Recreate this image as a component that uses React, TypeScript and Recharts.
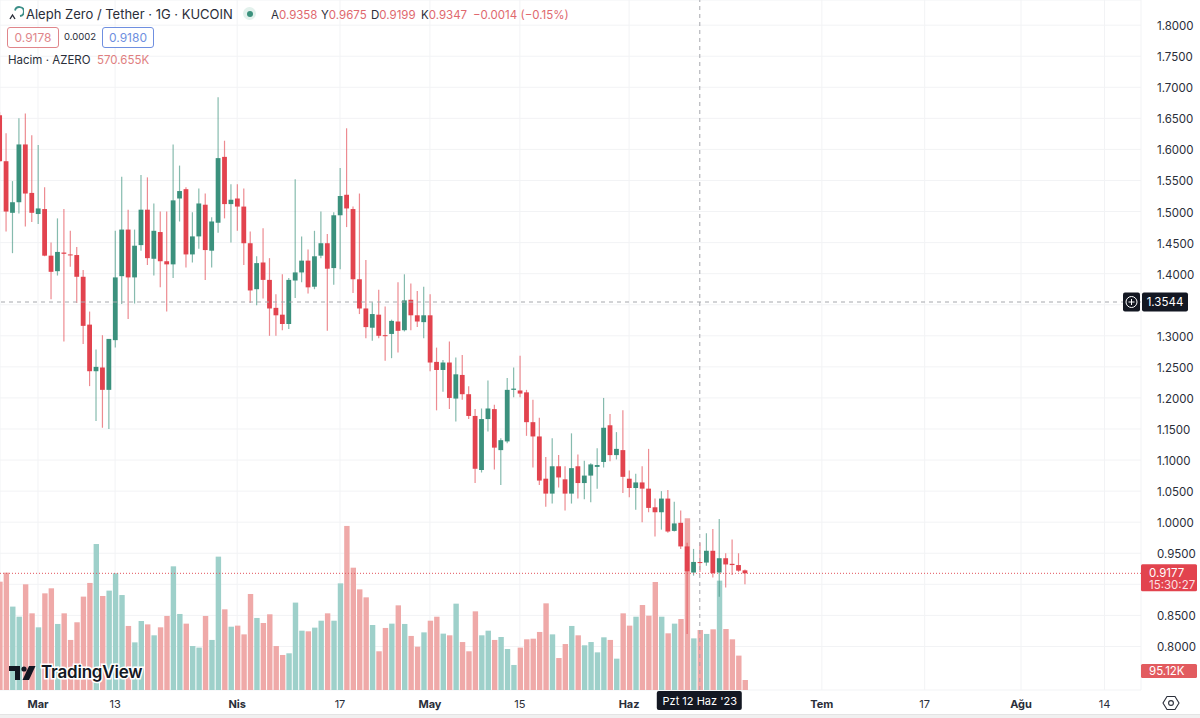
import React from "react";
import { ComposedChart, Bar, XAxis, YAxis, CartesianGrid, ReferenceLine } from "recharts";

// one candle per day, first candle is 23 Feb, day 0 is 1 Mar
const firstDay = -6;

const opens = [
  1.655, 1.581, 1.498, 1.515, 1.608, 1.53, 1.496, 1.504, 1.429, 1.404, 1.434, 1.431, 1.43, 1.395, 1.318, 1.243, 1.249, 1.213, 1.293, 1.396,
  1.471, 1.394, 1.446, 1.503, 1.424, 1.467, 1.42, 1.415, 1.521, 1.536, 1.431, 1.46, 1.511, 1.437, 1.482, 1.588, 1.512, 1.521, 1.508, 1.449,
  1.375, 1.418, 1.39, 1.345, 1.334, 1.319, 1.389, 1.402, 1.421, 1.379, 1.429, 1.449, 1.409, 1.494, 1.527, 1.504, 1.391, 1.344, 1.313, 1.334,
  1.301, 1.303, 1.323, 1.309, 1.358, 1.333, 1.322, 1.333, 1.258, 1.245, 1.257, 1.199, 1.237, 1.206, 1.171, 1.084, 1.166, 1.182, 1.116, 1.13,
  1.213, 1.212, 1.209, 1.161, 1.138, 1.07, 1.046, 1.09, 1.069, 1.046, 1.09, 1.063, 1.075, 1.089, 1.097, 1.156, 1.108, 1.116, 1.07, 1.055,
  1.064, 1.054, 1.024, 1.016, 1.038, 0.986, 0.999, 0.961, 0.919, 0.9358, 0.935, 0.954, 0.919, 0.942, 0.933, 0.931, 0.9225,
];
const highs = [
  1.66, 1.626, 1.549, 1.65, 1.658, 1.623, 1.607, 1.539, 1.45, 1.489, 1.504, 1.469, 1.443, 1.406, 1.339, 1.278, 1.301, 1.295, 1.469, 1.556,
  1.503, 1.471, 1.559, 1.555, 1.513, 1.5, 1.5, 1.608, 1.574, 1.539, 1.499, 1.537, 1.529, 1.491, 1.684, 1.614, 1.544, 1.544, 1.537, 1.468,
  1.428, 1.473, 1.425, 1.367, 1.399, 1.393, 1.552, 1.46, 1.439, 1.469, 1.5, 1.464, 1.499, 1.57, 1.634, 1.508, 1.529, 1.422, 1.354, 1.374,
  1.347, 1.326, 1.386, 1.399, 1.384, 1.372, 1.379, 1.367, 1.281, 1.261, 1.291, 1.265, 1.269, 1.219, 1.182, 1.183, 1.228, 1.189, 1.135, 1.232,
  1.249, 1.268, 1.213, 1.197, 1.168, 1.105, 1.135, 1.108, 1.09, 1.143, 1.109, 1.099, 1.095, 1.119, 1.2, 1.174, 1.145, 1.18, 1.083, 1.078,
  1.09, 1.118, 1.038, 1.05, 1.052, 1.033, 1.019, 0.967, 0.957, 0.9675, 0.982, 0.989, 1.005, 0.95, 0.972, 0.95, 0.924,
];
const lows = [
  1.58, 1.468, 1.433, 1.497, 1.476, 1.483, 1.48, 1.428, 1.359, 1.397, 1.291, 1.411, 1.353, 1.287, 1.219, 1.163, 1.152, 1.15, 1.281, 1.351,
  1.327, 1.352, 1.437, 1.414, 1.397, 1.378, 1.339, 1.393, 1.484, 1.41, 1.418, 1.44, 1.39, 1.41, 1.466, 1.489, 1.45, 1.469, 1.414, 1.353,
  1.349, 1.36, 1.3, 1.3, 1.309, 1.311, 1.361, 1.386, 1.368, 1.375, 1.425, 1.308, 1.382, 1.407, 1.475, 1.369, 1.335, 1.296, 1.292, 1.296,
  1.26, 1.264, 1.273, 1.307, 1.309, 1.314, 1.296, 1.243, 1.18, 1.21, 1.182, 1.162, 1.197, 1.166, 1.063, 1.08, 1.146, 1.085, 1.06, 1.127,
  1.201, 1.201, 1.139, 1.088, 1.06, 1.025, 1.03, 1.056, 1.019, 1.03, 1.038, 1.037, 1.032, 1.054, 1.088, 1.098, 1.101, 1.047, 1.04, 1.02,
  1.0, 1.016, 0.977, 0.988, 0.983, 0.985, 0.957, 0.82, 0.914, 0.9199, 0.93, 0.911, 0.88, 0.895, 0.915, 0.92, 0.9,
];
const closes = [
  1.581, 1.5, 1.515, 1.608, 1.529, 1.498, 1.505, 1.429, 1.403, 1.435, 1.432, 1.43, 1.395, 1.316, 1.243, 1.25, 1.213, 1.295, 1.394, 1.471,
  1.394, 1.445, 1.503, 1.425, 1.469, 1.42, 1.415, 1.518, 1.533, 1.431, 1.46, 1.513, 1.438, 1.484, 1.586, 1.512, 1.519, 1.508, 1.449, 1.373,
  1.417, 1.39, 1.344, 1.333, 1.319, 1.39, 1.402, 1.421, 1.378, 1.428, 1.449, 1.408, 1.494, 1.525, 1.505, 1.391, 1.344, 1.314, 1.335, 1.3,
  1.3, 1.324, 1.308, 1.357, 1.333, 1.323, 1.333, 1.257, 1.245, 1.257, 1.2, 1.238, 1.206, 1.171, 1.086, 1.166, 1.183, 1.12, 1.132, 1.213,
  1.215, 1.207, 1.161, 1.138, 1.067, 1.046, 1.09, 1.072, 1.046, 1.087, 1.063, 1.075, 1.093, 1.092, 1.152, 1.108, 1.118, 1.073, 1.055, 1.064,
  1.054, 1.023, 1.016, 1.038, 0.985, 0.998, 0.961, 0.921, 0.936, 0.9347, 0.954, 0.918, 0.942, 0.932, 0.931, 0.922, 0.9177,
];
// volume in thousands of AZERO
const volumes = [
  1030, 1116, 793, 697, 1005, 729, 596, 919, 967, 628, 729, 476, 644, 888, 1018, 1388, 894, 945, 1110, 903,
  609, 453, 656, 624, 520, 596, 704, 1176, 723, 631, 418, 403, 704, 476, 1268, 767, 602, 612, 529, 913,
  685, 637, 720, 418, 333, 349, 831, 564, 558, 593, 659, 729, 659, 1014, 1560, 1163, 957, 881, 618, 368,
  590, 631, 805, 628, 514, 412, 548, 659, 697, 536, 520, 821, 456, 368, 748, 520, 564, 476, 504, 390,
  238, 403, 482, 488, 552, 824, 529, 304, 437, 609, 520, 425, 456, 358, 501, 476, 298, 729, 612, 697,
  808, 707, 1027, 697, 539, 631, 675, 1633, 491, 570.655, 533, 577, 1040, 580, 482, 327, 95.12,
];

const priceTicks = [1.8, 1.75, 1.7, 1.65, 1.6, 1.55, 1.5, 1.45, 1.4, 1.35, 1.3, 1.25, 1.2, 1.15, 1.1, 1.05, 1, 0.95, 0.9, 0.85, 0.8];
// these two sit under the price tags and show no label
const hiddenPriceLabels = [1.35, 0.9];
const tickDays = [0, 12, 31, 47, 61, 75, 92, 122, 138, 153, 166];
const tickLabels = ["Mar", "13", "Nis", "17", "May", "15", "Haz", "Tem", "17", "Ağu", "14"];
const monthLabels = ["Mar", "Nis", "May", "Haz", "Tem", "Ağu"];

const crosshairDay = 103;
const crosshairPrice = 1.3544;
const lastPrice = 0.9177;
const lastVolume = 95.12;

const data = opens.map((open, i) => ({
  day: firstDay + i,
  open,
  high: highs[i],
  low: lows[i],
  close: closes[i],
  volume: volumes[i],
}));

const UP = "#3b917d";
const DOWN = "#e2434e";
const FONT = "Inter, 'Noto Sans', sans-serif";

function Candle(props: any) {
  const { x, y, width, height, payload } = props;
  const { open, high, low, close } = payload;
  const up = close >= open;
  const color = up ? UP : DOWN;
  const cx = x + width / 2;
  const perUnit = height / (high - low || 1);
  const top = y + (high - Math.max(open, close)) * perUnit;
  const bodyH = Math.max(Math.abs(open - close) * perUnit, 1);
  return (
    <g>
      <line x1={cx} x2={cx} y1={y} y2={y + height} stroke={color} strokeOpacity={0.62} strokeWidth={1.2} />
      <rect x={x} y={top} width={width} height={bodyH} fill={color} />
    </g>
  );
}

function VolumeBar(props: any) {
  const { x, y, width, height, payload } = props;
  const up = payload.close >= payload.open;
  return <rect x={x} y={y} width={width} height={height} fill={up ? "#9ed0ca" : "#efa9a8"} />;
}

function DayTick(props: any) {
  const { x, y, payload } = props;
  const label = tickLabels[tickDays.indexOf(payload.value)];
  const bold = monthLabels.includes(label);
  return (
    <text x={x} y={y + 10} textAnchor="middle" fontFamily={FONT} fontSize={11} fontWeight={bold ? 700 : 400} fill="#2a2e39">
      {label}
    </text>
  );
}

function PriceTick(props: any) {
  const { x, y, payload } = props;
  if (hiddenPriceLabels.includes(payload.value)) return <g />;
  return (
    <text x={x + 8} y={y + 5} fontFamily={FONT} fontSize={11.5} fill="#2a2e39">
      {payload.value.toFixed(4)}
    </text>
  );
}

function CrosshairPriceTag(props: any) {
  const y = props.viewBox.y;
  const x = props.viewBox.x + props.viewBox.width;
  return (
    <g fontFamily={FONT}>
      <rect x={x - 18} y={y - 9.5} width={17} height={19} rx={2} fill="#131722" />
      <circle cx={x - 9.5} cy={y} r={5.5} fill="none" stroke="#fff" strokeWidth={1} />
      <path d={`M${x - 12.5} ${y}h6M${x - 9.5} ${y - 3}v6`} stroke="#fff" strokeWidth={1} />
      <rect x={x + 1} y={y - 9.5} width={46} height={19} rx={2} fill="#131722" />
      <text x={x + 24} y={y + 4} textAnchor="middle" fontSize={11.5} fill="#fff">
        {crosshairPrice.toFixed(4)}
      </text>
    </g>
  );
}

function LastPriceTag(props: any) {
  const y = props.viewBox.y;
  const x = props.viewBox.x + props.viewBox.width;
  return (
    <g fontFamily={FONT} fontSize={11.5} fill="#fff">
      <rect x={x} y={y - 9} width={56} height={27} rx={1.5} fill={DOWN} />
      <text x={x + 8} y={y + 3.5}>{lastPrice.toFixed(4)}</text>
      <text x={x + 8} y={y + 15.5} fillOpacity={0.85}>15:30:27</text>
    </g>
  );
}

function LastVolumeTag(props: any) {
  const y = props.viewBox.y;
  const x = props.viewBox.x + props.viewBox.width;
  return (
    <g fontFamily={FONT} fontSize={11.5} fill="#fff">
      <rect x={x} y={y - 16} width={56} height={14} rx={1.5} fill="#e25b5f" />
      <text x={x + 8} y={y - 5}>{lastVolume.toFixed(2)}K</text>
    </g>
  );
}

function DateTag(props: any) {
  const cx = props.viewBox.x;
  const bottom = props.viewBox.y + props.viewBox.height;
  return (
    <g fontFamily={FONT} fontSize={11}>
      <rect x={cx - 43} y={bottom + 1} width={85} height={19} rx={2} fill="#131722" />
      <text x={cx} y={bottom + 15} textAnchor="middle" fill="#fff">Pzt 12 Haz '23</text>
    </g>
  );
}

const abs = (left: number, top: number, extra: React.CSSProperties = {}): React.CSSProperties => ({
  position: "absolute",
  left,
  top,
  whiteSpace: "nowrap",
  ...extra,
});

function Ohlc() {
  const items = [
    ["A", "0.9358", 271],
    ["Y", "0.9675", 321],
    ["D", "0.9199", 371],
    ["K", "0.9347", 421],
  ] as const;
  return (
    <>
      {items.map(([k, v, left]) => (
        <span key={k} style={abs(left, 8, { fontSize: 11.5 })}>
          <span style={{ color: "#2a2e39" }}>{k}</span>
          <span style={{ color: "#e0686e" }}>{v}</span>
        </span>
      ))}
      <span style={abs(473, 8, { fontSize: 11.5, color: "#e0686e" })}>−0.0014 (−0.15%)</span>
    </>
  );
}

function Header() {
  const box = (left: number, color: string): React.CSSProperties =>
    abs(left, 27, {
      width: 50,
      height: 19,
      lineHeight: "19px",
      textAlign: "center",
      border: `1px solid ${color}`,
      borderRadius: 3,
      color,
      fontSize: 12,
      background: "#fff",
    });
  return (
    <div style={{ fontFamily: FONT, color: "#2a2e39" }}>
      <svg style={abs(8, 6)} width={16} height={16} viewBox="0 0 16 16">
        <path d="M7 4.5 A4.5 4.5 0 1 1 12 10" fill="none" stroke="#3c8f88" strokeWidth={1.8} />
        <path d="M2 13 L4.5 9 L7 13" fill="none" stroke="#2a2e39" strokeWidth={1.4} />
      </svg>
      <span style={abs(26, 6, { fontSize: 13 })}>Aleph Zero / Tether · 1G · KUCOIN</span>
      <span style={abs(243, 7, { width: 13, height: 13, borderRadius: 7, background: "#e2f1ec" })} />
      <span style={abs(247, 11, { width: 6, height: 6, borderRadius: 3, background: "#3b917d" })} />
      <Ohlc />
      <span style={box(7, "#e0868b")}>0.9178</span>
      <span style={abs(64, 31, { fontSize: 9.5 })}>0.0002</span>
      <span style={box(102, "#6f8fe0")}>0.9180</span>
      <span style={abs(8, 53, { fontSize: 11.5 })}>Hacim · AZERO</span>
      <span style={abs(97, 53, { fontSize: 11.5, color: "#e07f80" })}>570.655K</span>
    </div>
  );
}

function Logo() {
  return (
    <>
      <svg style={abs(9, 666)} width={27} height={15} viewBox="0 0 27 15">
        <path d="M0 0H11V14H6V5H0Z" fill="#131722" />
        <circle cx={15} cy={3} r={2.6} fill="#131722" />
        <path d="M20 0H26.5L20 14H13.5Z" fill="#131722" />
      </svg>
      <span
        style={abs(41, 662, {
          fontFamily: FONT,
          fontSize: 17,
          fontWeight: 600,
          letterSpacing: -0.2,
          color: "#131722",
          WebkitTextStroke: "3px #fff",
          paintOrder: "stroke fill",
        })}
      >
        TradingView
      </span>
    </>
  );
}

export default function App() {
  return (
    <div style={{ position: "absolute", left: 0, top: 0, width: 1200, height: 718, background: "#fff", overflow: "hidden" }}>
      <ComposedChart width={1200} height={718} data={data} margin={{ top: 0, right: 0, bottom: 0, left: 0 }}>
        <CartesianGrid xAxisId="main" yAxisId="price" stroke="#f2f3f5" strokeWidth={1} />
        <XAxis
          xAxisId="main"
          dataKey="day"
          type="number"
          domain={[-5.914, 171.67]}
          allowDataOverflow
          ticks={tickDays}
          interval={0}
          height={28}
          tick={<DayTick />}
          tickLine={false}
          axisLine={false}
        />
        <XAxis xAxisId="vol" dataKey="day" type="number" domain={[-5.914, 171.67]} allowDataOverflow hide />
        <YAxis
          yAxisId="price"
          orientation="right"
          width={59}
          type="number"
          domain={[0.7299, 1.8405]}
          allowDataOverflow
          ticks={priceTicks}
          interval={0}
          tick={<PriceTick />}
          tickLine={false}
          axisLine={false}
        />
        <YAxis yAxisId="volAxis" hide type="number" domain={[0, 6561]} allowDataOverflow />
        <Bar xAxisId="vol" yAxisId="volAxis" dataKey="volume" barSize={5.4} shape={<VolumeBar />} isAnimationActive={false} />
        <Bar
          xAxisId="main"
          yAxisId="price"
          dataKey={(d: any) => [d.low, d.high]}
          barSize={4.8}
          shape={<Candle />}
          isAnimationActive={false}
        />
        <ReferenceLine xAxisId="main" yAxisId="price" y={lastPrice} stroke="#e2535b" strokeDasharray="1 2" label={LastPriceTag} />
        <ReferenceLine xAxisId="main" yAxisId="volAxis" y={lastVolume} stroke="none" label={LastVolumeTag} />
        <ReferenceLine xAxisId="main" yAxisId="price" x={crosshairDay} stroke="#a6a8ad" strokeDasharray="4 4" label={DateTag} />
        <ReferenceLine xAxisId="main" yAxisId="price" y={crosshairPrice} stroke="#a6a8ad" strokeDasharray="4 4" label={CrosshairPriceTag} />
      </ComposedChart>
      <Header />
      <Logo />
      <svg style={abs(1162, 694)} width={18} height={18} viewBox="0 0 18 18">
        <path d="M5 2.5H13L17 9L13 15.5H5L1 9Z" fill="none" stroke="#2a2e39" strokeWidth={1.1} />
        <circle cx={9} cy={9} r={2.4} fill="none" stroke="#2a2e39" strokeWidth={1.1} />
      </svg>
      <div style={abs(0, 714, { width: 1200, height: 4, background: "#f0f0f0", borderTop: "1px solid #e4e4e4", boxSizing: "border-box" })} />
    </div>
  );
}
